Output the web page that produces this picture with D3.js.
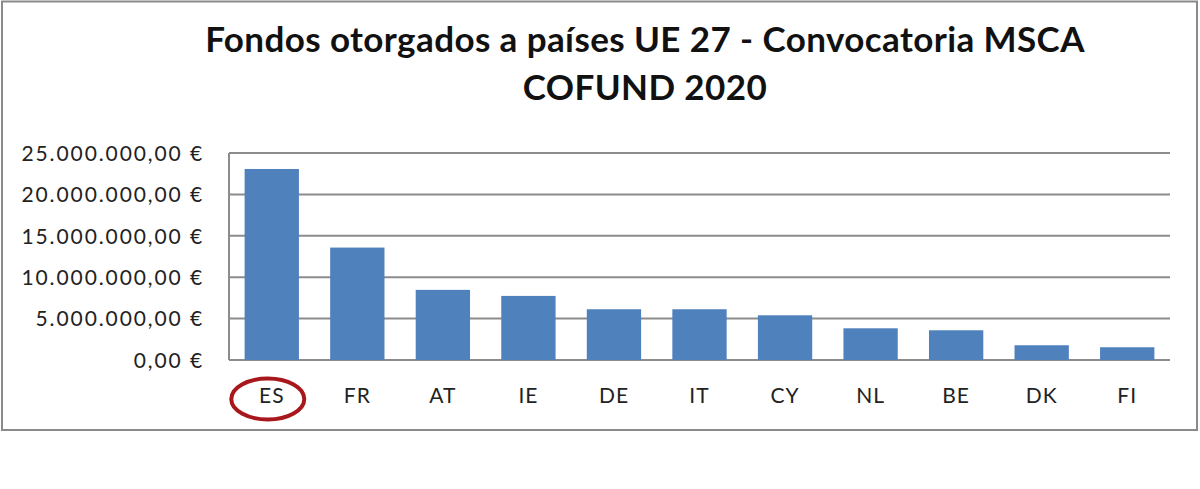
<!DOCTYPE html>
<html><head><meta charset="utf-8">
<script src="https://cdn.jsdelivr.net/npm/d3@7"></script>
<style>body{margin:0;background:#fff}svg{display:block}</style>
</head><body><svg id="c" width="1200" height="489"></svg>
<script>
const titleLines = ["Fondos otorgados a países UE 27 - Convocatoria MSCA", "COFUND 2020"];
const countries = ["ES","FR","AT","IE","DE","IT","CY","NL","BE","DK","FI"];
const funds = [23070000,13580000,8470000,7740000,6130000,6130000,5400000,3830000,3590000,1780000,1540000];
const yTicks = [0,5000000,10000000,15000000,20000000,25000000];
const highlighted = ["ES"];

const svg = d3.select("#c");
const FONT = "Lato, 'Open Sans', sans-serif";

svg.append("rect").attr("x",2).attr("y",1.5).attr("width",1195).attr("height",428.5)
  .attr("fill","#fff").attr("stroke","#8a8a8a").attr("stroke-width",2);

const t = svg.append("text").attr("text-anchor","middle").attr("font-family",FONT)
  .attr("font-weight",700).attr("font-size",35).attr("fill","#111").attr("letter-spacing","0.4px");
titleLines.forEach((l,i)=>t.append("tspan").attr("x",645).attr("y",52+i*48).text(l));

const m = {l:229, r:1170, t:153, b:360};
const x = d3.scaleBand().domain(countries).range([m.l,m.r]).paddingInner(0.365).paddingOuter(0.1825);
const y = d3.scaleLinear().domain([0,25000000]).range([m.b,m.t]);

const fmt = v => {
  const s = d3.format(",.2f")(v);
  return s.replace(/,/g,"#").replace(".",",").replace(/#/g,".") + " €";
};

// gridlines
svg.append("g").selectAll("line").data(yTicks).join("line")
  .attr("x1",m.l).attr("x2",m.r).attr("y1",d=>y(d)).attr("y2",d=>y(d))
  .attr("stroke","#8c8c8c").attr("stroke-width",2);
svg.append("line").attr("x1",m.l).attr("x2",m.l).attr("y1",m.t).attr("y2",m.b)
  .attr("stroke","#8c8c8c").attr("stroke-width",2);

// y axis
const yAxis = d3.axisLeft(y).tickValues(yTicks).tickFormat(fmt).tickSize(0).tickPadding(25);
const ga = svg.append("g").attr("transform",`translate(${m.l},0)`).call(yAxis);
ga.select(".domain").remove();
ga.selectAll("text").attr("font-family",FONT).attr("font-size",21).attr("fill","#222")
  .attr("letter-spacing","1.9px").attr("dy","0.35em");

// bars
svg.append("g").selectAll("rect").data(countries).join("rect")
  .attr("x",d=>x(d)).attr("width",x.bandwidth())
  .attr("y",(d,i)=>y(funds[i])).attr("height",(d,i)=>y(0)-y(funds[i]))
  .attr("fill","#4f81bd");

// x axis
const xAxis = d3.axisBottom(x).tickSize(0).tickPadding(37);
const gx = svg.append("g").attr("transform",`translate(0,${m.b})`).call(xAxis);
gx.select(".domain").remove();
gx.selectAll("text").attr("font-family",FONT).attr("font-size",21).attr("fill","#222")
  .attr("letter-spacing","1px").attr("dy","0.3em");

// highlight ellipse
svg.append("g").selectAll("ellipse").data(highlighted).join("ellipse")
  .attr("cx",d=>x(d)+x.bandwidth()/2-4).attr("cy",399).attr("rx",36.5).attr("ry",20.5)
  .attr("fill","none").attr("stroke","#a8171c").attr("stroke-width",4);
</script></body></html>
